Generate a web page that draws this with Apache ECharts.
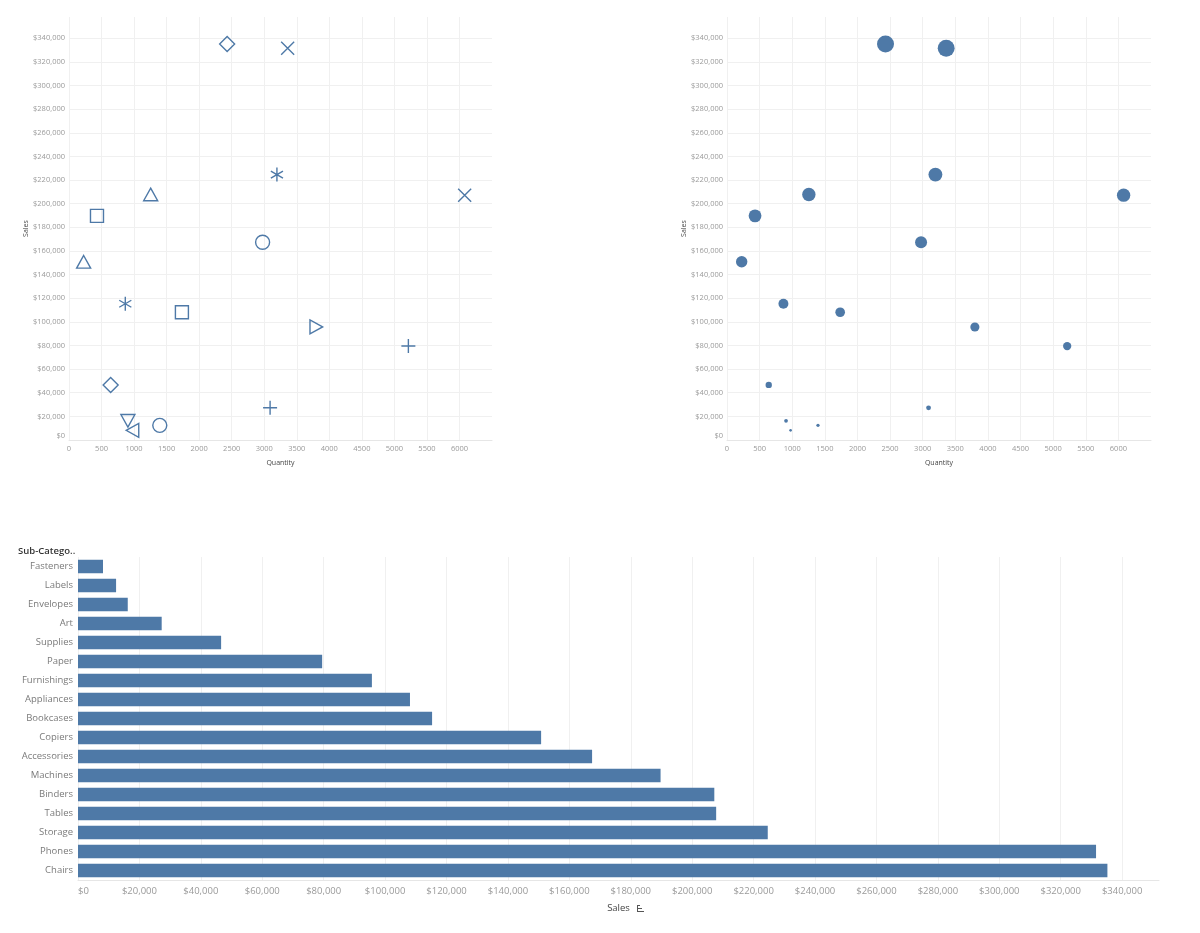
<!doctype html>
<html lang="en">
<head>
  <meta charset="UTF-8">
  <title>Sales by Sub-Category</title>
  <script src="https://cdn.jsdelivr.net/npm/echarts@6/dist/echarts.min.js"></script>
  <style>
    * {
      margin: 0;
      padding: 0;
      box-sizing: border-box;
    }

    body {
      background: #fff;
    }

    .chart {
      width: 1200px;
      height: 933px;
    }
  </style>
</head>
<body>
<div class="chart"></div>
<script>
  // data (sorted by sales, ascending)
  const subCategories = ['Fasteners', 'Labels', 'Envelopes', 'Art', 'Supplies', 'Paper', 'Furnishings',
    'Appliances', 'Bookcases', 'Copiers', 'Accessories', 'Machines', 'Binders', 'Tables', 'Storage',
    'Phones', 'Chairs']
  const sales = [8150, 12400, 16200, 27250, 46600, 79500, 95700, 108100, 115300, 150800, 167400,
    189700, 207200, 207800, 224600, 331500, 335200]
  const quantity = [975, 1395, 905, 3090, 640, 5215, 3800, 1735, 865, 225, 2975, 430, 6080, 1255,
    3195, 3360, 2430]

  // tableau shape palette, handed out in alphabetical order of sub-category
  const shapeOrder = ['circle', 'square', 'plus', 'cross', 'asterisk', 'diamond',
    'triUp', 'triDown', 'triLeft', 'triRight']

  const shapes = {
    circle: {path: 'path://M0,-10A10,10 0 1,1 0,10A10,10 0 1,1 0,-10Z', size: 14},
    square: {path: 'path://M-10,-10L10,-10L10,10L-10,10Z', size: 13},
    plus: {path: 'path://M0,-10L0,10M-10,0L10,0', size: 14},
    cross: {path: 'path://M-10,-10L10,10M10,-10L-10,10', size: 13},
    asterisk: {path: 'path://M0,-10L0,10M-8.66,-5L8.66,5M8.66,-5L-8.66,5', size: 14},
    diamond: {path: 'path://M0,-10L10,0L0,10L-10,0Z', size: 15},
    triUp: {path: 'path://M0,-10L10,8L-10,8Z', size: 14},
    triDown: {path: 'path://M0,10L10,-8L-10,-8Z', size: 14},
    triLeft: {path: 'path://M-10,0L8,-10L8,10Z', size: 14},
    triRight: {path: 'path://M10,0L-8,-10L-8,10Z', size: 14}
  }

  const blue = '#4e79a7'
  const tickColor = '#9a9a9a'
  const font = 'Open Sans'
  const money = v => '$' + v.toLocaleString('en-US')

  const sorted = subCategories.slice().sort()
  const shapeData = subCategories.map((name, i) => {
    const s = shapes[shapeOrder[sorted.indexOf(name) % shapeOrder.length]]
    return {name: name, value: [quantity[i], sales[i]], symbol: s.path, symbolSize: s.size}
  })
  const bubbleData = subCategories.map((name, i) => ({name: name, value: [quantity[i], sales[i]]}))
  const maxSales = Math.max(...sales)

  function scatterX(idx) {
    return {
      gridIndex: idx, type: 'value', min: 0, max: 6500, interval: 500,
      name: 'Quantity', nameLocation: 'middle', nameGap: 19,
      nameTextStyle: {fontSize: 7, color: '#444', fontFamily: font},
      axisLine: {show: true, lineStyle: {color: '#e6e6e6'}},
      axisTick: {show: false},
      axisLabel: {
        fontSize: 7.5, color: tickColor, fontFamily: font, margin: 5, showMaxLabel: false,
        formatter: v => String(v)
      },
      splitLine: {show: true, showMaxLine: false, lineStyle: {color: '#f0f0f0'}}
    }
  }

  function scatterY(idx) {
    return {
      gridIndex: idx, type: 'value', min: 0, max: 358000, interval: 20000,
      name: 'Sales', nameLocation: 'middle', nameGap: 40,
      nameTextStyle: {fontSize: 7, color: '#444', fontFamily: font},
      axisLine: {show: false},
      axisTick: {show: false},
      axisLabel: {
        fontSize: 7.5, color: tickColor, fontFamily: font, margin: 4, showMaxLabel: false,
        verticalAlignMinLabel: 'bottom', formatter: money
      },
      splitLine: {show: true, showMaxLine: false, lineStyle: {color: '#f0f0f0'}}
    }
  }

  const chart = echarts.init(document.querySelector('.chart'))

  option = {
    animation: false,
    backgroundColor: '#fff',
    grid: [
      {left: 69, top: 17, width: 423, height: 423},
      {left: 727, top: 17, width: 424, height: 423},
      {left: 78, top: 557, width: 1081, height: 323}
    ],
    xAxis: [
      scatterX(0),
      scatterX(1),
      {
        gridIndex: 2, type: 'value', min: 0, max: 352000, interval: 20000,
        name: 'Sales', nameLocation: 'middle', nameGap: 23,
        nameTextStyle: {fontSize: 9.5, color: '#444', fontFamily: font},
        axisLine: {show: true, lineStyle: {color: '#e6e6e6'}},
        axisTick: {show: false},
        axisLabel: {
          fontSize: 9.5, color: tickColor, fontFamily: font, margin: 6,
          showMaxLabel: false, alignMinLabel: 'left', formatter: money
        },
        splitLine: {show: true, showMaxLine: false, lineStyle: {color: '#f0f0f0'}}
      }
    ],
    yAxis: [
      scatterY(0),
      scatterY(1),
      {
        gridIndex: 2, type: 'category', data: subCategories, inverse: true,
        axisLine: {show: false},
        axisTick: {show: false},
        axisLabel: {fontSize: 9.5, color: '#7a7a7a', fontFamily: font, margin: 5},
        splitLine: {show: false}
      }
    ],
    series: [
      {
        type: 'scatter', xAxisIndex: 0, yAxisIndex: 0,
        data: shapeData,
        symbolKeepAspect: true,
        itemStyle: {color: 'rgba(0,0,0,0)', borderColor: blue, borderWidth: 1.4, opacity: 1}
      },
      {
        type: 'scatter', xAxisIndex: 1, yAxisIndex: 1,
        data: bubbleData,
        symbolSize: v => 17 * Math.sqrt(v[1] / maxSales),
        itemStyle: {color: blue, opacity: 1}
      },
      {
        type: 'bar', xAxisIndex: 2, yAxisIndex: 2,
        data: sales,
        barWidth: 13.5,
        itemStyle: {color: blue}
      }
    ],
    graphic: [
      {
        type: 'text', left: 18, top: 546,
        style: {text: 'Sub-Catego..', fontSize: 9.5, fontWeight: 600, fill: '#333', fontFamily: font}
      },
      // sort icon next to the "Sales" axis title
      {type: 'rect', shape: {x: 637, y: 905, width: 1, height: 7}, style: {fill: '#555'}},
      {type: 'rect', shape: {x: 637, y: 905, width: 3, height: 1}, style: {fill: '#555'}},
      {type: 'rect', shape: {x: 637, y: 908, width: 5, height: 1}, style: {fill: '#555'}},
      {type: 'rect', shape: {x: 637, y: 911, width: 7, height: 1}, style: {fill: '#555'}}
    ]
  }
  chart.setOption(option)
</script>
</body>
</html>
